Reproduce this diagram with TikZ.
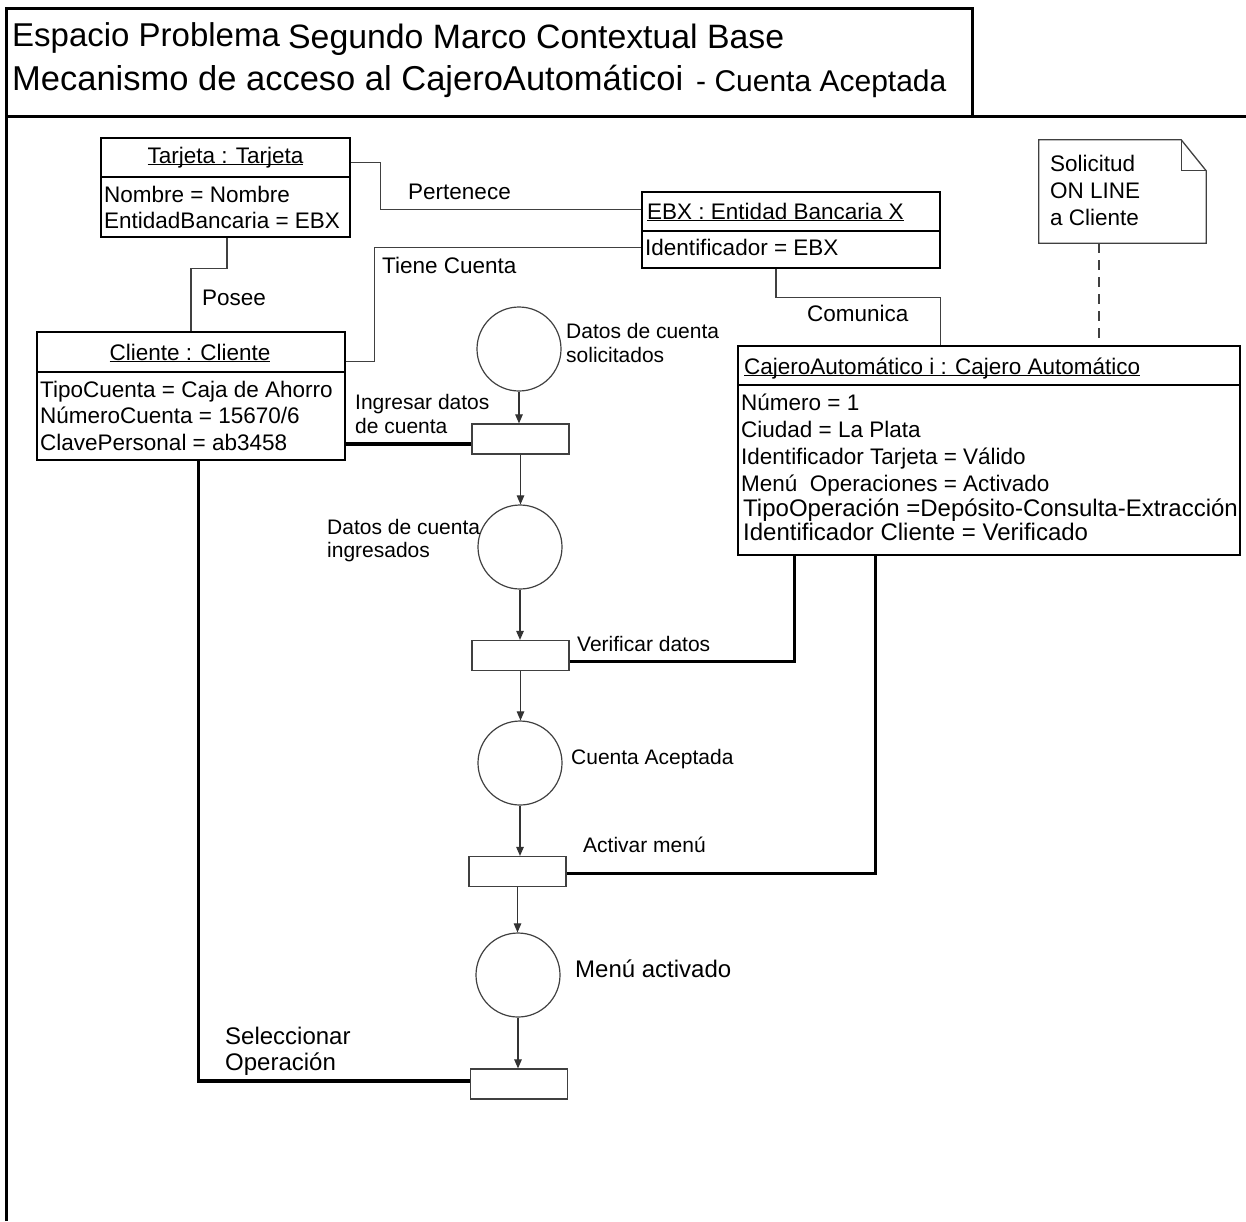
\documentclass[tikz,border=0pt]{standalone}
\usepackage{fontspec}
\setmainfont{Liberation Sans}
\usetikzlibrary{arrows.meta}
\newcommand{\objname}[1]{\underline{\smash{#1}}}
\tikzset{
	outline/.style={line width=3pt},
	objbox/.style={draw, line width=1.8pt, inner sep=0pt},
	sepline/.style={line width=1.6pt},
	txt/.style={anchor=base west, inner sep=0pt, font=\fontsize{22.5}{27}\selectfont},
	bigtxt/.style={txt, font=\fontsize{24}{28}\selectfont},
	smalltxt/.style={txt, font=\fontsize{21}{25}\selectfont},
	titletxt/.style={txt, font=\fontsize{33}{40}\selectfont},
	assoc/.style={line width=1.1pt, black!75},
	notebox/.style={line width=1.3pt, black!75},
	strong/.style={line width=3.2pt},
	place/.style={circle, draw=black!75, line width=1.2pt, minimum size=84pt, inner sep=0pt},
	trans/.style={rectangle, draw=black!75, line width=1.2pt, minimum width=97pt, minimum height=30pt, inner sep=0pt},
	flow/.style={line width=1.1pt, black!80, -{Triangle[length=9pt, width=7.5pt]}}
}
\begin{document}
\begin{tikzpicture}[x=1pt, y=-1pt]
	\useasboundingbox (0,0) rectangle (1246,1221);
	\draw[outline] (6,1221) -- (6,8) -- (972,8) -- (972,116);
	\draw[outline] (6,116) -- (1246,116);
	\node[titletxt] (tit1) at (12,46) {Espacio Problema};
	\node[titletxt, font=\fontsize{33.8}{40}\selectfont] (tit2) at (288,48) {Segundo Marco Contextual Base};
	\node[titletxt, font=\fontsize{34.5}{40}\selectfont] (tit3) at (12,90) {Mecanismo de acceso al CajeroAutomáticoi};
	\node[titletxt, font=\fontsize{30}{36}\selectfont] (tit4) at (696,91) {- Cuenta Aceptada};

	\node[objbox, minimum width=249pt, minimum height=99pt] (tarjeta) at (225.5,187.5) {};
	\draw[sepline] ([yshift=-40pt]tarjeta.north west) -- ([yshift=-40pt]tarjeta.north east);
	\node[txt, anchor=base] (tarjeta-h) at (225.5,163) {\objname{Tarjeta : Tarjeta}};
	\foreach \t [count=\k] in {Nombre = Nombre, EntidadBancaria = EBX}
		\node[txt] (tarjeta-a\k) at (104,176+26*\k) {\t};

	\node[objbox, minimum width=298pt, minimum height=76pt] (ebx) at (791,230) {};
	\draw[sepline] ([yshift=-40pt]ebx.north west) -- ([yshift=-40pt]ebx.north east);
	\node[txt] (ebx-h) at (647,219) {\objname{EBX : Entidad Bancaria X}};
	\node[txt] (ebx-a1) at (645,255) {Identificador = EBX};

	\node[objbox, minimum width=308pt, minimum height=128pt] (cliente) at (191,396) {};
	\draw[sepline] ([yshift=-41pt]cliente.north west) -- ([yshift=-41pt]cliente.north east);
	\node[txt, anchor=base] (cliente-h) at (190,360) {\objname{Cliente : Cliente}};
	\foreach \t [count=\k] in {TipoCuenta = Caja de Ahorro, NúmeroCuenta = 15670/6, ClavePersonal = ab3458}
		\node[txt] (cliente-a\k) at (40,370.5+26.5*\k) {\t};

	\node[objbox, minimum width=502pt, minimum height=209pt] (cajero) at (989,450.5) {};
	\draw[sepline] ([yshift=-40pt]cajero.north west) -- ([yshift=-40pt]cajero.north east);
	\node[txt] (cajero-h) at (744,374) {\objname{CajeroAutomático i : Cajero Automático}};
	\foreach \t [count=\k] in {Número = 1, Ciudad = La Plata, Identificador Tarjeta = Válido, Menú~~Operaciones = Activado}
		\node[txt] (cajero-a\k) at (741,383+27*\k) {\t};
	\node[bigtxt] (cajero-a5) at (743,516) {TipoOperación =Depósito-Consulta-Extracción};
	\node[bigtxt] (cajero-a6) at (743,540) {Identificador Cliente = Verificado};

	\node[inner sep=0pt, minimum width=167pt, minimum height=103pt] (note) at (1122.5,191.5) {};
	\draw[notebox] (note.north west) -- ([xshift=-25pt]note.north east) -- ([yshift=-31pt]note.north east) -- (note.south east) -- (note.south west) -- cycle;
	\draw[notebox] ([xshift=-25pt]note.north east) |- ([yshift=-31pt]note.north east);
	\foreach \t [count=\k] in {Solicitud, ON LINE, a Cliente}
		\node[txt] (note-l\k) at (1050,144+27*\k) {\t};

	\draw[assoc] ([yshift=-25pt]tarjeta.north east) -- ++(30,0) |- ([yshift=-18pt]ebx.north west);
	\draw[assoc] ([yshift=-30pt]cliente.north east) -- ++(29,0) |- ([yshift=-56pt]ebx.north west);
	\draw[assoc] ([xshift=1.5pt]tarjeta.south) -- ++(0,31) -| (cliente.north);
	\draw[assoc] ([xshift=-15pt]ebx.south) -- ++(0,29) -| ([xshift=203pt]cajero.north west);
	\draw[assoc, dash pattern=on 10pt off 7pt] ([xshift=-23.5pt]note.south) -- ([xshift=-23.5pt]note.south |- cajero.north);
	\node[txt] (pertenece) at (408,199) {Pertenece};
	\node[txt] (tiene) at (382,273) {Tiene Cuenta};
	\node[txt] (posee) at (202,305) {Posee};
	\node[txt] (comunica) at (807,321) {Comunica};

	\node[place] (p1) at (519,349) {};
	\node[trans] (t1) at (520.5,439) {};
	\node[place] (p2) at (520,547) {};
	\node[trans] (t2) at (520.5,655.5) {};
	\node[place] (p3) at (520,763) {};
	\node[trans] (t3) at (517.5,871.5) {};
	\node[place] (p4) at (518,975) {};
	\node[trans] (t4) at (519,1084) {};
	\foreach \a/\b in {p1/t1, t1/p2, p2/t2, t2/p3, p3/t3, t3/p4, p4/t4}
		\draw[flow] (\a.south) -- (\a.south |- \b.north);

	\draw[strong] ([yshift=-5pt]t1.west) coordinate (j1) -- (j1 -| cliente.east);
	\draw[strong] ([yshift=-6pt]t2.east) -| ([xshift=57pt]cajero.south west);
	\draw[strong] ([yshift=-2pt]t3.east) -| ([xshift=138pt]cajero.south west);
	\draw[strong] ([yshift=3pt]t4.west) -| ([xshift=162pt]cliente.south west);

	\node[smalltxt] (lp1a) at (566,338) {Datos de cuenta};
	\node[smalltxt] (lp1b) at (566,362) {solicitados};
	\node[smalltxt] (lt1a) at (355,409) {Ingresar datos};
	\node[smalltxt] (lt1b) at (355,433) {de cuenta};
	\node[smalltxt] (lp2a) at (327,534) {Datos de cuenta};
	\node[smalltxt] (lp2b) at (327,557) {ingresados};
	\node[smalltxt] (lt2) at (577,651) {Verificar datos};
	\node[smalltxt] (lp3) at (571,764) {Cuenta Aceptada};
	\node[smalltxt] (lt3) at (583,852) {Activar menú};
	\node[bigtxt] (lp4) at (575,977) {Menú activado};
	\node[bigtxt] (lt4a) at (225,1044) {Seleccionar};
	\node[bigtxt] (lt4b) at (225,1070) {Operación};
\end{tikzpicture}
\end{document}
